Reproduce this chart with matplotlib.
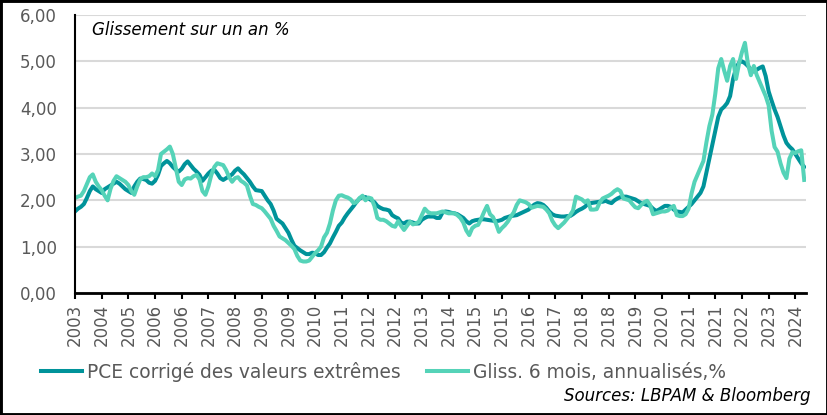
import numpy as np
import matplotlib.pyplot as plt
from matplotlib.patches import Rectangle

# Monthly series, Oct 2003 -> Apr 2024
pce_trim = [
    1.76, 1.82, 1.86, 1.92, 2.05, 2.20, 2.30, 2.24, 2.20, 2.16, 2.24, 2.28,
    2.32, 2.36, 2.40, 2.36, 2.30, 2.24, 2.20, 2.16, 2.30, 2.40, 2.47, 2.46,
    2.44, 2.38, 2.36, 2.42, 2.55, 2.74, 2.80, 2.85, 2.80, 2.72, 2.66, 2.62,
    2.68, 2.78, 2.84, 2.76, 2.68, 2.62, 2.55, 2.42, 2.50, 2.58, 2.64, 2.66,
    2.58, 2.48, 2.44, 2.48, 2.52, 2.56, 2.64, 2.69, 2.62, 2.56, 2.48, 2.40,
    2.30, 2.22, 2.21, 2.20, 2.10, 2.00, 1.92, 1.78, 1.60, 1.55, 1.50, 1.40,
    1.30, 1.15, 1.02, 0.97, 0.92, 0.88, 0.84, 0.84, 0.87, 0.86, 0.82, 0.82,
    0.88, 0.98, 1.07, 1.20, 1.32, 1.45, 1.52, 1.63, 1.72, 1.80, 1.88, 1.97,
    2.04, 2.07, 2.07, 2.04, 2.00, 1.96, 1.88, 1.84, 1.81, 1.80, 1.78, 1.68,
    1.64, 1.61, 1.52, 1.50, 1.54, 1.54, 1.52, 1.50, 1.50, 1.58, 1.62, 1.65,
    1.65, 1.65, 1.62, 1.62, 1.74, 1.76, 1.75, 1.73, 1.72, 1.70, 1.66, 1.62,
    1.55, 1.50, 1.55, 1.57, 1.58, 1.59, 1.59, 1.58, 1.57, 1.56, 1.55, 1.56,
    1.58, 1.62, 1.64, 1.66, 1.67, 1.68, 1.71, 1.74, 1.77, 1.80, 1.86, 1.91,
    1.94, 1.93, 1.90, 1.84, 1.76, 1.70, 1.67, 1.66, 1.65, 1.65, 1.66, 1.66,
    1.70, 1.75, 1.79, 1.82, 1.86, 1.92, 1.94, 1.95, 1.96, 1.97, 1.97, 1.99,
    1.96, 1.94, 2.00, 2.04, 2.07, 2.08, 2.08, 2.06, 2.04, 2.02, 1.98, 1.94,
    1.92, 1.90, 1.88, 1.82, 1.77, 1.80, 1.84, 1.88, 1.88, 1.86, 1.80, 1.76,
    1.75, 1.74, 1.80, 1.86, 1.92, 2.00, 2.08, 2.16, 2.30, 2.60, 2.90, 3.20,
    3.50, 3.80, 3.96, 4.02, 4.10, 4.25, 4.62, 4.85, 4.97, 5.00, 4.96, 4.90,
    4.82, 4.78, 4.82, 4.86, 4.89, 4.68, 4.35, 4.15, 3.96, 3.80, 3.60, 3.40,
    3.24, 3.16, 3.10, 3.00, 2.90, 2.80, 2.72,
]
gliss_6m = [
    2.05, 2.08, 2.10, 2.20, 2.35, 2.50, 2.56, 2.40, 2.30, 2.22, 2.10, 2.00,
    2.25, 2.42, 2.52, 2.48, 2.44, 2.40, 2.33, 2.20, 2.12, 2.30, 2.45, 2.50,
    2.50, 2.52, 2.58, 2.52, 2.65, 3.00, 3.05, 3.10, 3.16, 3.00, 2.70, 2.40,
    2.33, 2.45, 2.48, 2.47, 2.52, 2.55, 2.45, 2.20, 2.12, 2.30, 2.55, 2.72,
    2.80, 2.78, 2.76, 2.65, 2.50, 2.40, 2.48, 2.50, 2.42, 2.38, 2.32, 2.10,
    1.92, 1.90, 1.86, 1.83, 1.76, 1.68, 1.60, 1.45, 1.34, 1.22, 1.18, 1.14,
    1.08, 1.02, 0.95, 0.80, 0.70, 0.68, 0.68, 0.70, 0.78, 0.86, 0.92, 1.00,
    1.20, 1.30, 1.50, 1.78, 2.00, 2.10, 2.11, 2.08, 2.06, 2.02, 1.94, 1.96,
    2.05, 2.10, 2.00, 2.06, 2.04, 1.88, 1.62, 1.58, 1.58, 1.55, 1.50, 1.45,
    1.43, 1.55, 1.45, 1.36, 1.45, 1.54, 1.48, 1.50, 1.54, 1.68, 1.82, 1.75,
    1.72, 1.72, 1.72, 1.74, 1.76, 1.74, 1.72, 1.72, 1.72, 1.68, 1.62, 1.52,
    1.35, 1.25, 1.40, 1.45, 1.47, 1.60, 1.75, 1.88, 1.70, 1.64, 1.50, 1.32,
    1.40, 1.46, 1.54, 1.65, 1.74, 1.90, 2.00, 1.98, 1.96, 1.92, 1.84, 1.86,
    1.88, 1.87, 1.86, 1.80, 1.72, 1.56, 1.46, 1.40, 1.46, 1.52, 1.60, 1.68,
    1.78, 2.08, 2.05, 2.02, 1.96, 2.00, 1.80, 1.80, 1.81, 1.95, 2.04, 2.07,
    2.10, 2.14, 2.20, 2.24, 2.20, 2.04, 2.02, 2.00, 1.92, 1.85, 1.83, 1.90,
    1.96, 1.99, 1.90, 1.70, 1.72, 1.74, 1.76, 1.76, 1.78, 1.84, 1.88, 1.68,
    1.66, 1.66, 1.70, 1.82, 2.15, 2.40, 2.55, 2.70, 2.85, 3.25, 3.60, 3.85,
    4.30, 4.85, 5.05, 4.80, 4.58, 4.90, 5.05, 4.62, 4.95, 5.20, 5.40, 4.95,
    4.70, 4.90, 4.70, 4.55, 4.40, 4.25, 4.05, 3.50, 3.15, 3.05, 2.80, 2.60,
    2.48, 2.90, 3.04, 3.02, 3.06, 3.08, 2.44,
]
tick_labels = ["2003", "2004", "2005", "2006", "2006", "2007", "2008", "2009",
               "2009", "2010", "2011", "2012", "2012", "2013", "2014", "2015",
               "2015", "2016", "2017", "2018", "2018", "2019", "2020", "2021",
               "2021", "2022", "2023", "2024"]
yticks = [0, 1, 2, 3, 4, 5, 6]

DARK = "#00939a"
LIGHT = "#55d3b8"
GREY = "#595959"

x = np.arange(len(pce_trim))

fig = plt.figure(figsize=(8.28, 4.15), dpi=100)
ax = fig.add_axes([75/828, 122/415, 731/828, 278/415])

ax.plot(x, pce_trim, color=DARK, lw=2.9, solid_joinstyle="round",
        label="PCE corrigé des valeurs extrêmes", zorder=3)
ax.plot(x, gliss_6m, color=LIGHT, lw=2.9, solid_joinstyle="round",
        label="Gliss. 6 mois, annualisés,%", zorder=4)

ax.set_xlim(0, 246.6)
ax.set_ylim(0, 6)
ax.set_yticks(yticks)
ax.set_yticklabels([f"{v:.2f}".replace(".", ",") for v in yticks],
                   color=GREY, fontsize=12)
ax.set_xticks(np.arange(len(tick_labels)) * 9)
ax.set_xticklabels(tick_labels, rotation=90, color=GREY, fontsize=12)
ax.tick_params(axis="y", length=0, pad=13)
ax.tick_params(axis="x", length=4, width=1.5, color="black", pad=4)

ax.grid(axis="y", color="#d9d9d9", lw=1.5, zorder=0)
ax.set_axisbelow(True)
for s in ["top", "right"]:
    ax.spines[s].set_visible(False)
ax.spines["left"].set_linewidth(1.5)
ax.spines["bottom"].set_linewidth(2)
ax.spines["left"].set_zorder(5)
ax.spines["bottom"].set_zorder(5)

ax.text(17/731, (293-30)/278, "Glissement sur un an %", transform=ax.transAxes,
        fontsize=12, style="italic", va="center", ha="left", color="black")

h, l = ax.get_legend_handles_labels()
for i, xl in enumerate([41, 427]):
    fig.legend([h[i]], [l[i]], loc="center left", bbox_to_anchor=(xl/828, 43/415),
               frameon=False, borderpad=0, borderaxespad=0, handlelength=2.2,
               handletextpad=0.25, fontsize=13.4, labelcolor=GREY)

fig.text(811/828, 19/415, "Sources: LBPAM & Bloomberg", fontsize=12,
         style="italic", ha="right", va="center", color="black")

fig.patches.append(Rectangle((0, 0), 1, 1, transform=fig.transFigure,
                             fill=False, edgecolor="black", lw=3.5))

fig.savefig("out.png", dpi=100)
